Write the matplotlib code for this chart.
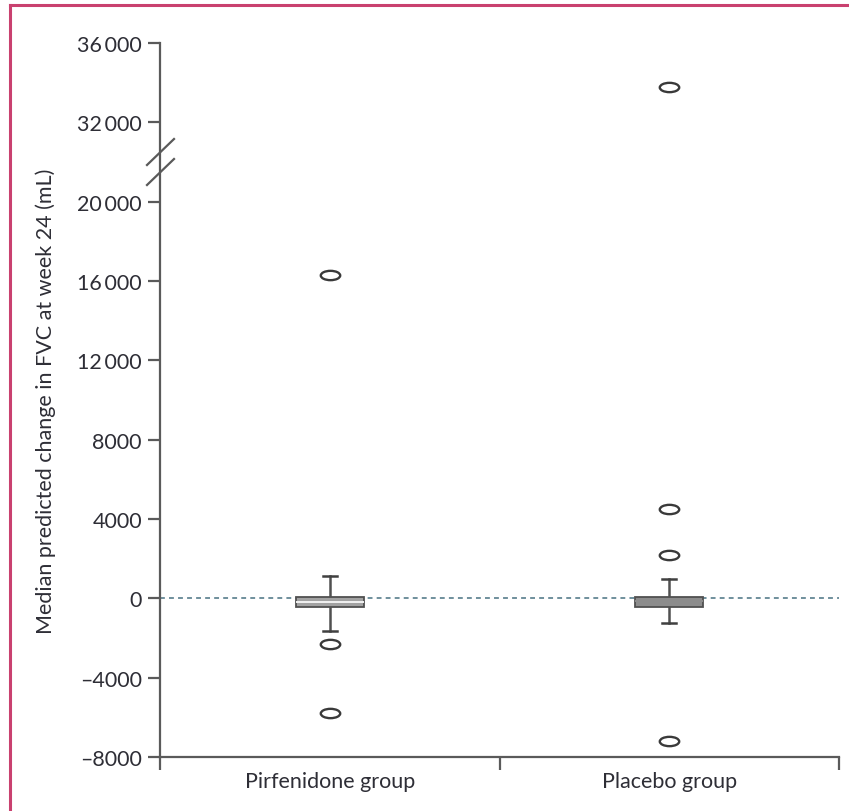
import numpy as np
import matplotlib
matplotlib.use("Agg")
import matplotlib.pyplot as plt
from matplotlib.path import Path
from matplotlib.lines import Line2D

plt.rcParams['font.family'] = ['Lato', 'DejaVu Sans']
plt.rcParams['lines.scale_dashes'] = False

# ---- data -------------------------------------------------------------
groups = ["Pirfenidone group", "Placebo group"]
medians = [-180, -150]
q1 = [-460, -430]
q3 = [70, 70]
whisker_low = [-1650, -1220]
whisker_high = [1150, 960]
outliers = [[16300, -2300, -5800], [33800, 4500, 2200, -7200]]

y_ticks = [-8000, -4000, 0, 4000, 8000, 12000, 16000, 20000, 32000, 36000]
y_tick_labels = ["\u20138000", "\u20134000", "0", "4000", "8000",
                 "12\u2009000", "16\u2009000", "20\u2009000",
                 "32\u2009000", "36\u2009000"]
y_label = "Median predicted change in FVC at week 24 (mL)"

# broken axis: the 20 000 – 32 000 band is compressed threefold
BREAK_LO, BREAK_HI, SQUEEZE = 20000, 32000, 3.0


def fwd(y):
    y = np.asarray(y, dtype=float)
    mid = BREAK_LO + (y - BREAK_LO) / SQUEEZE
    top = BREAK_LO + (BREAK_HI - BREAK_LO) / SQUEEZE + (y - BREAK_HI)
    return np.where(y <= BREAK_LO, y, np.where(y <= BREAK_HI, mid, top))


def inv(v):
    v = np.asarray(v, dtype=float)
    top_start = BREAK_LO + (BREAK_HI - BREAK_LO) / SQUEEZE
    mid = BREAK_LO + (v - BREAK_LO) * SQUEEZE
    top = BREAK_HI + (v - top_start)
    return np.where(v <= BREAK_LO, v, np.where(v <= top_start, mid, top))


# ---- figure -----------------------------------------------------------
W, H = 849, 812
fig = plt.figure(figsize=(W / 100, H / 100), dpi=100)
ax_left, ax_right, ax_bottom, ax_top = 160, 839, 758, 44
ax = fig.add_axes([ax_left / W, 1 - ax_bottom / H,
                   (ax_right - ax_left) / W, (ax_bottom - ax_top) / H])
ax.set_yscale('function', functions=(fwd, inv))
ax.set_ylim(-8000, 36000)
ax.set_xlim(0.5, 2.5)

axis_col = '#5a5a5a'
text_col = '#2e2e36'
fs = 15.5

# zero reference line
ax.axhline(0, color='#6f8f9c', lw=1.4, linestyle=(0, (3.5, 3.0)), zorder=1)

# ellipse flier marker
circ = Path.unit_circle()
ellipse = Path(circ.vertices * np.array([1.0, 0.48]), circ.codes)

stats = []
for i in range(len(groups)):
    stats.append(dict(med=medians[i], q1=q1[i], q3=q3[i],
                      whislo=whisker_low[i], whishi=whisker_high[i],
                      fliers=outliers[i], label=groups[i]))

bp = ax.bxp(stats, positions=[1, 2], widths=0.2, capwidths=0.042,
            patch_artist=True, showfliers=True,
            boxprops=dict(edgecolor='#505050', linewidth=1.3),
            whiskerprops=dict(color='#505050', linewidth=1.8),
            capprops=dict(color='#404040', linewidth=1.8),
            medianprops=dict(linewidth=1.4),
            flierprops=dict(marker=ellipse, markersize=14,
                            markerfacecolor='none',
                            markeredgecolor='#3a3a3a',
                            markeredgewidth=1.7))
face_cols = ['#a2a2a2', '#8c8c8c']
med_cols = ['#f2f2f2', '#8c8c8c']
for box, fc in zip(bp['boxes'], face_cols):
    box.set_facecolor(fc)
    box.set_zorder(3)
for med, mc in zip(bp['medians'], med_cols):
    med.set_color(mc)
    med.set_zorder(4)
for w in bp['whiskers']:
    w.set_zorder(2)

# axes styling
for s in ['top', 'right']:
    ax.spines[s].set_visible(False)
for s in ['left', 'bottom']:
    ax.spines[s].set_color(axis_col)
    ax.spines[s].set_linewidth(1.6)

ax.set_yticks(y_ticks)
ax.set_yticklabels(y_tick_labels)
ax.yaxis.set_minor_locator(matplotlib.ticker.NullLocator())
ax.tick_params(axis='y', direction='out', length=9, width=1.6,
               color=axis_col, labelsize=fs, labelcolor=text_col, pad=4)

ax.set_xticks([0.5, 1.5, 2.5])
ax.set_xticklabels([])
ax.set_xticks([1, 2], minor=True)
ax.set_xticklabels(groups, minor=True)
ax.tick_params(axis='x', which='major', direction='out', length=9,
               width=1.6, color=axis_col)
ax.tick_params(axis='x', which='minor', length=0, labelsize=fs,
               labelcolor=text_col, pad=10)

ax.set_ylabel(y_label, fontsize=fs, color=text_col, labelpad=15)

# break marks across the y axis
mid_val = inv(BREAK_LO + (BREAK_HI - BREAK_LO) / SQUEEZE / 2)
cx, cy = ax.transData.transform((0.5, float(mid_val)))
for dy in (10, -10):
    x0, y0 = cx - 13, cy + dy - 13
    x1, y1 = cx + 14, cy + dy + 13
    (fx0, fy0), (fx1, fy1) = fig.transFigure.inverted().transform(
        [(x0, y0), (x1, y1)])
    fig.add_artist(Line2D([fx0, fx1], [fy0, fy1], color=axis_col,
                          lw=1.6, transform=fig.transFigure))

# panel frame (top and left edges)
frame_col = '#c9416f'
fig.add_artist(Line2D([9.5 / W, 1], [1 - 5.5 / H, 1 - 5.5 / H],
                      color=frame_col, lw=2.2, transform=fig.transFigure))
fig.add_artist(Line2D([9.5 / W, 9.5 / W], [0, 1 - 5.5 / H],
                      color=frame_col, lw=2.2, transform=fig.transFigure))

fig.savefig("out.png", dpi=100)
